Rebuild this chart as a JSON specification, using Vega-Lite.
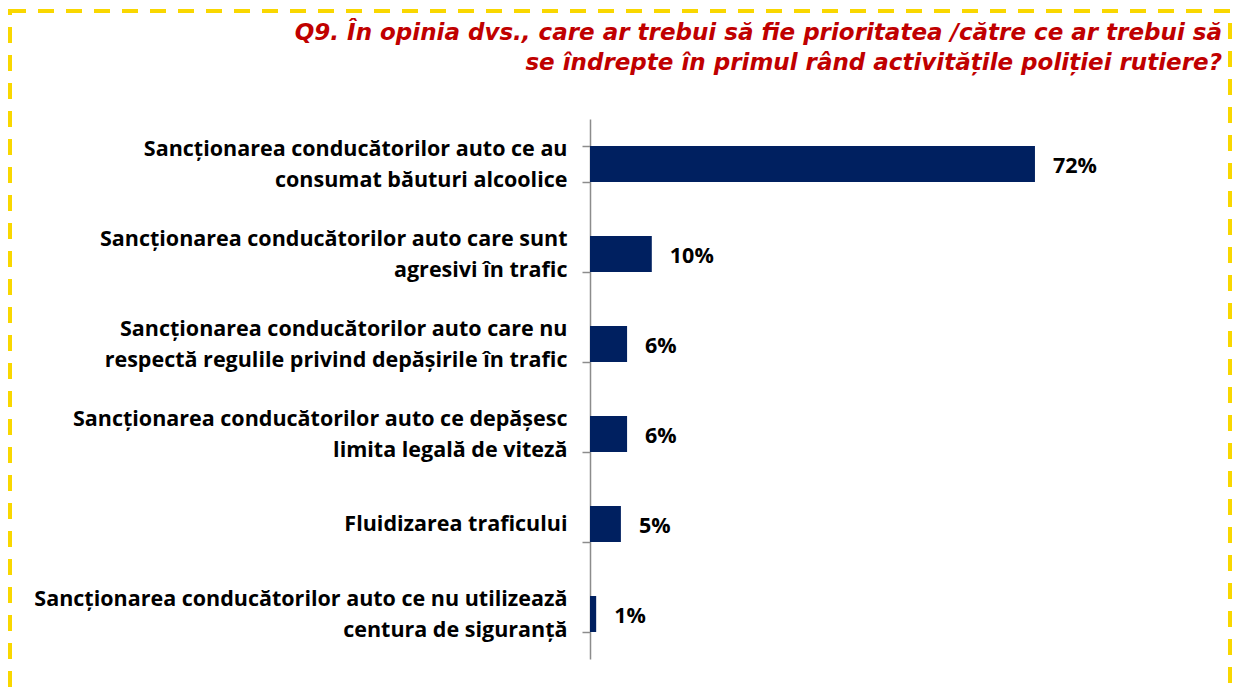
{
  "$schema": "https://vega.github.io/schema/vega-lite/v6.json",
  "width": 1220,
  "height": 700,
  "autosize": {"type": "none"},
  "padding": {"left": 10, "top": 11, "right": 4, "bottom": 0},
  "config": {
    "view": {"stroke": "#F9D700", "strokeWidth": 4, "strokeDash": [16, 12]},
    "font": "Open Sans"
  },
  "title": {
    "text": ["Q9. În opinia dvs., care ar trebui să fie prioritatea /către ce ar trebui să", "se îndrepte în primul rând activitățile poliției rutiere?"],
    "anchor": "end",
    "frame": "group",
    "orient": "top",
    "offset": -6,
    "baseline": "top",
    "font": "DejaVu Sans",
    "fontSize": 23,
    "fontStyle": "italic",
    "fontWeight": "bold",
    "color": "#C00000",
    "lineHeight": 30,
    "dx": -8,
    "dy": 69
  },
  "data": {
    "values": [
      {"cat": "Sancționarea conducătorilor auto ce au|consumat băuturi alcoolice", "pct": 0.72},
      {"cat": "Sancționarea conducătorilor auto care sunt|agresivi în trafic", "pct": 0.10},
      {"cat": "Sancționarea conducătorilor auto care nu|respectă regulile privind depășirile în trafic", "pct": 0.06},
      {"cat": "Sancționarea conducătorilor auto ce depășesc|limita legală de viteză", "pct": 0.06},
      {"cat": "Fluidizarea traficului", "pct": 0.05},
      {"cat": "Sancționarea conducătorilor auto ce nu utilizează|centura de siguranță", "pct": 0.01}
    ]
  },
  "encoding": {
    "y": {
      "field": "cat",
      "type": "nominal",
      "sort": null,
      "scale": {"range": [108, 648], "paddingInner": 0.6, "paddingOuter": 0.3},
      "axis": {
        "title": null,
        "labelExpr": "isString(datum.value) ? split(datum.value, '|') : ''",
        "labelOffset": {"condition": {"test": "isString(datum.value) && indexof(datum.value, '|') >= 0", "value": -15}, "value": 0},
        "domainColor": "#8C8C8C",
        "domainWidth": 1.5,
        "tickColor": "#8C8C8C",
        "tickWidth": 1.5,
        "tickSize": 8,
        "tickBand": "extent",
        "labelPadding": 15,
        "labelFont": "Open Sans",
        "labelFontSize": 21.5,
        "labelFontWeight": "bold",
        "labelColor": "#000000",
        "labelLineHeight": 31,
        "labelLimit": 0,
        "offset": -580,
        "grid": false
      }
    },
    "x": {
      "field": "pct",
      "type": "quantitative",
      "scale": {"domain": [0, 1], "range": [580, 1198]},
      "axis": null
    }
  },
  "layer": [
    {"mark": {"type": "bar", "color": "#002060"}},
    {
      "mark": {"type": "text", "align": "left", "baseline": "middle", "dx": 18, "dy": 3, "fontSize": 21.5, "fontWeight": "bold", "font": "Open Sans", "color": "#000000"},
      "encoding": {"text": {"field": "pct", "type": "quantitative", "format": ".0%"}}
    }
  ]
}
